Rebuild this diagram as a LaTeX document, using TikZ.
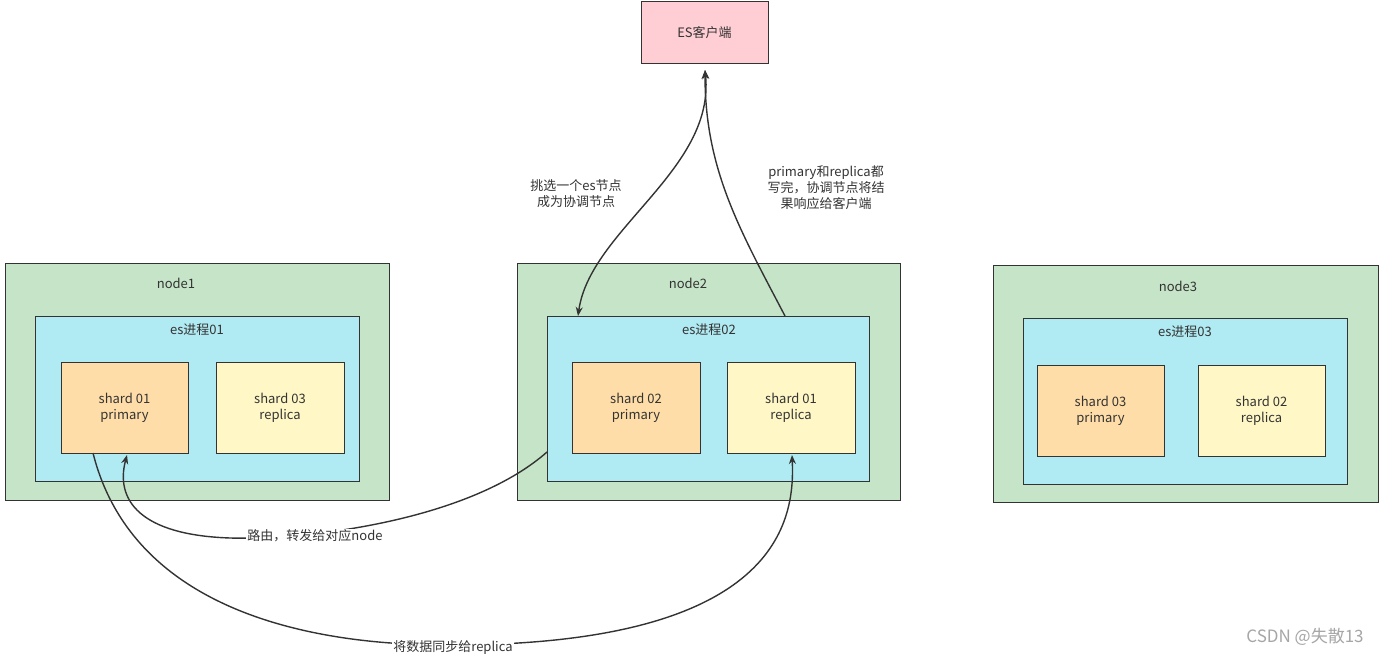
\documentclass[tikz,border=0pt]{standalone}
\usepackage{fontspec}
\setmainfont{Noto Sans CJK SC}
\usetikzlibrary{arrows.meta}
\definecolor{grn}{HTML}{C6E5C8}
\definecolor{cyn}{HTML}{B0EAF2}
\definecolor{org}{HTML}{FFDDA8}
\definecolor{yel}{HTML}{FFF8C6}
\definecolor{pnk}{HTML}{FFCDD4}
\definecolor{bd}{HTML}{333333}
\begin{document}
\begin{tikzpicture}[x=1pt,y=-1pt,
 box/.style={draw=bd,line width=1pt},
 t/.style={font=\fontsize{13}{16}\selectfont,text=bd,align=center},
 arr/.style={draw=bd,line width=1.4pt,-{Stealth[length=9pt,width=7pt]}}]
\useasboundingbox (0,0) rectangle (1384,661);
\fill[white] (0,0) rectangle (1384,661);
% client
\draw[box,fill=pnk] (641,2) rectangle (768,64);
\node[t] (es) at (704.5,33) {ES客户端};
\coordinate (esb) at (705,70);
% node1
\draw[box,fill=grn] (5,263) rectangle (389,500);
\draw[box,fill=cyn] (35,316) rectangle (359,481);
\node[t] (n1) at (176,283) {node1};
\node[t] (p1) at (197,330) {es进程01};
\draw[box,fill=org] (61,362) rectangle (188,453);
\node[t] (s11) at (124.5,408) {shard 01\\primary};
\draw[box,fill=yel] (216,362) rectangle (344,453);
\node[t] (s13) at (280,408) {shard 03\\replica};
% node2
\draw[box,fill=grn] (517,263) rectangle (900,500);
\draw[box,fill=cyn] (547,316) rectangle (869,481);
\node[t] (n2) at (688,283) {node2};
\node[t] (p2) at (709,330) {es进程02};
\draw[box,fill=org] (572,362) rectangle (700,453);
\node[t] (s22) at (636,408) {shard 02\\primary};
\draw[box,fill=yel] (727,362) rectangle (855,453);
\node[t] (s21) at (791,408) {shard 01\\replica};
% node3
\draw[box,fill=grn] (993,265) rectangle (1378,502);
\draw[box,fill=cyn] (1023,318) rectangle (1347,484);
\node[t] (n3) at (1178,286) {node3};
\node[t] (p3) at (1185,332) {es进程03};
\draw[box,fill=org] (1037,365) rectangle (1164,456);
\node[t] (s33) at (1100.5,411) {shard 03\\primary};
\draw[box,fill=yel] (1198,365) rectangle (1325,456);
\node[t] (s32) at (1261.5,411) {shard 02\\replica};
% connectors
\coordinate (a1) at (578,316);
\coordinate (a2) at (785,316);
\draw[arr,{Stealth[length=9pt,width=7pt]}-{Stealth[length=9pt,width=7pt]}] (esb) .. controls (715,170) and (590,230) .. (a1);
\draw[arr] (a2) .. controls (740,230) and (705,170) .. (esb);
\coordinate (r0) at (547,452);
\coordinate (r1) at (127,455);
\draw[arr] (r0) .. controls (470,520) and (310,540) .. (230,538) .. controls (140,535) and (115,500) .. (r1);
\coordinate (y0) at (93,453);
\coordinate (y1) at (792,455);
\draw[arr] (y0) .. controls (140,640) and (380,645) .. (450,645) .. controls (780,645) and (795,520) .. (y1);
% labels
\node[t,fill=white,inner sep=1pt] (l1) at (315,536) {路由，转发给对应node};
\node[t,fill=white,inner sep=1pt] (l2) at (453,648) {将数据同步给replica};
\node[t] (l3) at (576,194) {挑选一个es节点\\成为协调节点};
\node[t] (l4) at (826,188) {primary和replica都\\写完，协调节点将结\\果响应给客户端};
\node[font=\fontsize{17}{20}\selectfont,text=black!35] (wm) at (1305,637) {CSDN @失散13};
\end{tikzpicture}
\end{document}
